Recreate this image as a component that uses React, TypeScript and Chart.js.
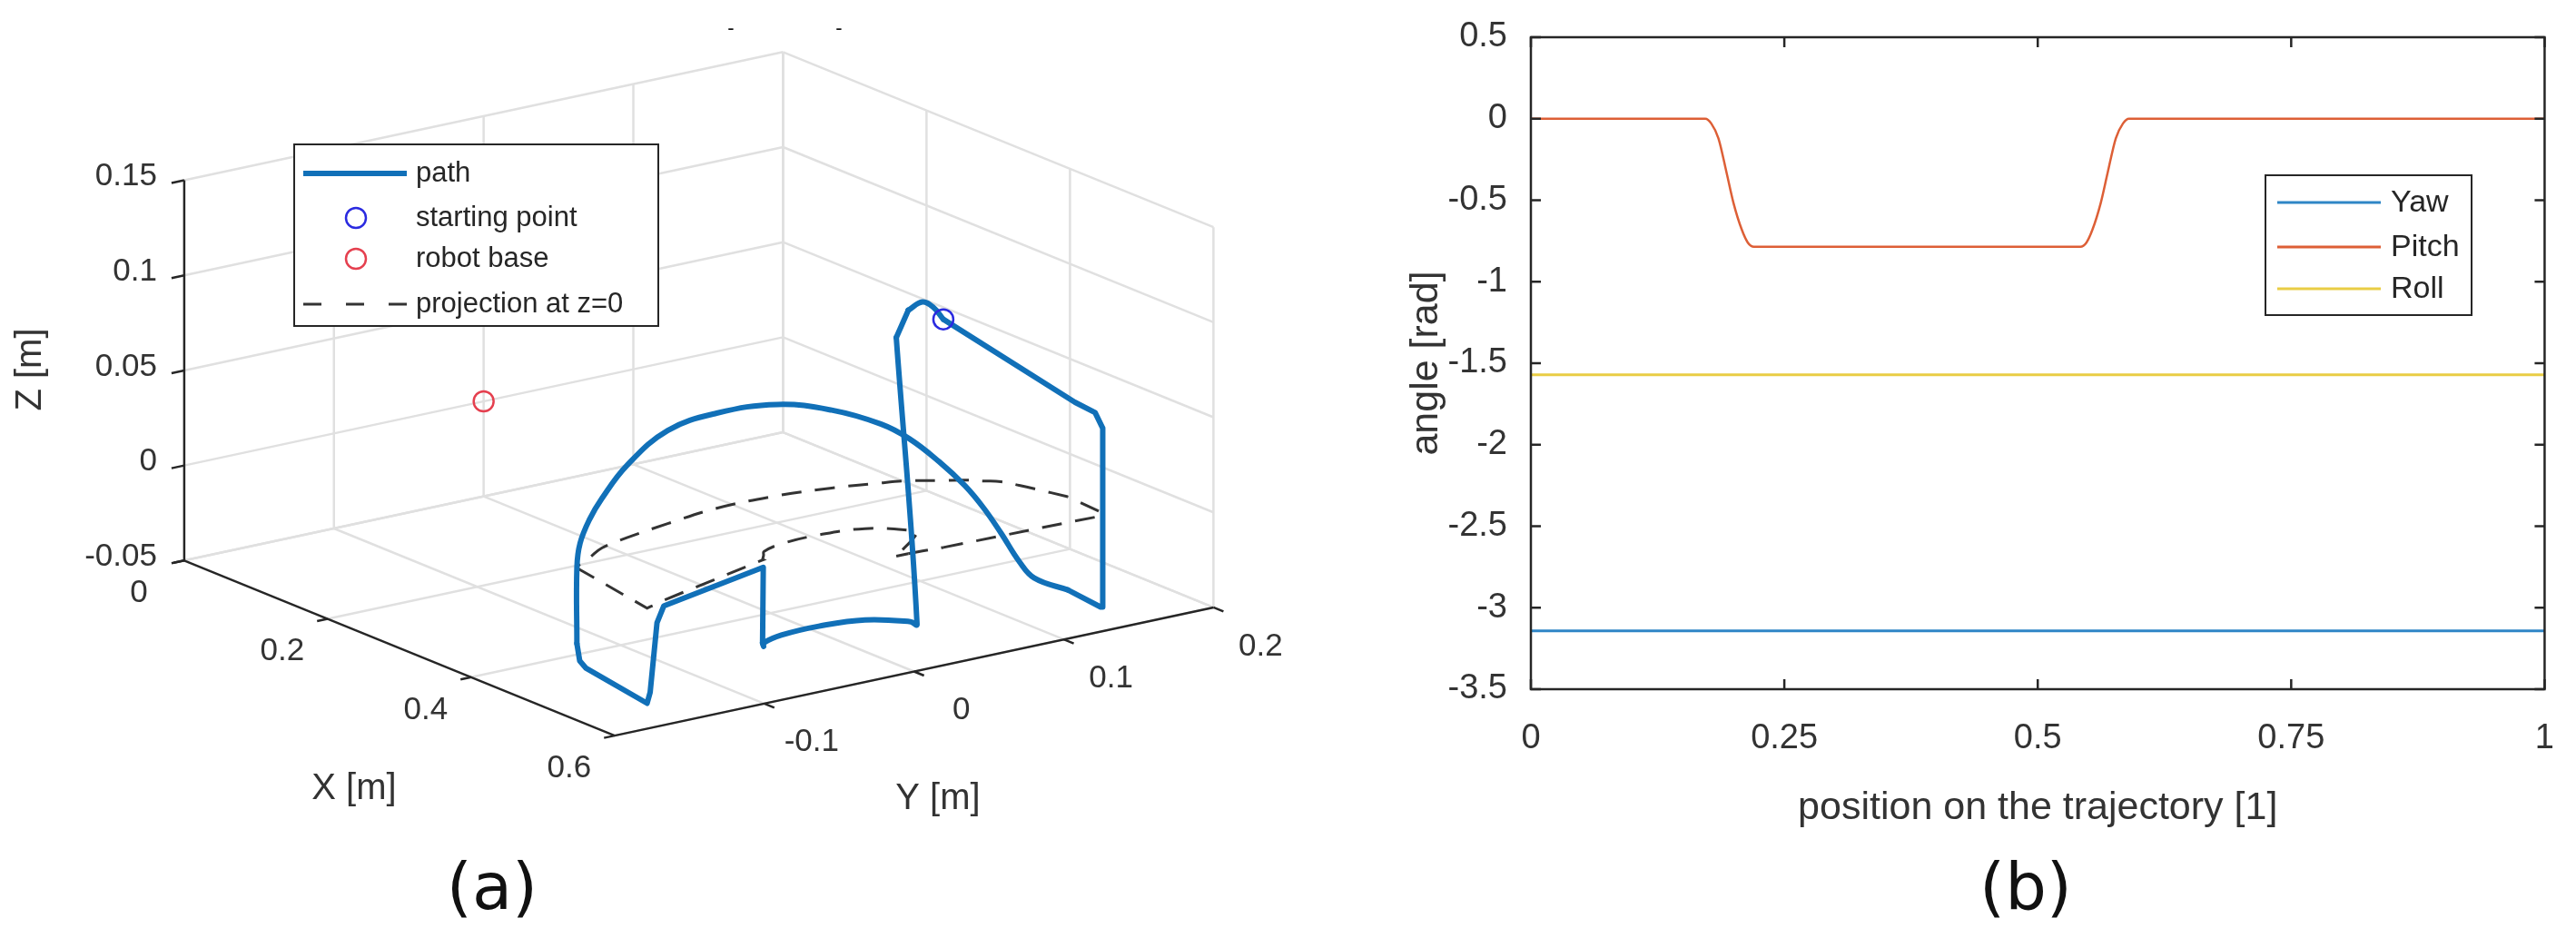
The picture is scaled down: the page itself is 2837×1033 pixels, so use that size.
import React, { useEffect, useRef } from 'react';
import { Chart, registerables } from 'chart.js';

Chart.register(...registerables);

// ================= Panel (a): 3D path (metres) =================
const pathX = [0.549, 0.553, 0.554, 0.550, 0.550, 0.550, 0.545, 0.495, 0.461, 0.446, 0.429, 0.419, 0.408, 0.397, 0.383, 0.374, 0.362, 0.353, 0.352, 0.363, 0.375, 0.386, 0.402, 0.412, 0.418, 0.418, 0.424, 0.435, 0.543, 0.541, 0.538, 0.533, 0.490, 0.489, 0.480, 0.472, 0.463, 0.461, 0.469, 0.495, 0.504, 0.546, 0.546, 0.547, 0.548, 0.549];
const pathY = [0.044, 0.130, 0.143, 0.150, 0.150, 0.150, 0.151, 0.153, 0.147, 0.144, 0.140, 0.133, 0.126, 0.114, 0.101, 0.086, 0.059, 0.027, -0.013, -0.051, -0.084, -0.106, -0.122, -0.133, -0.138, -0.138, -0.139, -0.140, -0.151, -0.148, -0.142, -0.135, -0.048, -0.048, -0.043, -0.039, -0.023, 0.003, 0.030, 0.048, 0.048, 0.014, 0.022, 0.031, 0.038, 0.044];
const pathZ = [0.120, 0.0625, 0.055, 0.045, -0.040, -0.049, -0.050, -0.049, -0.047, -0.040, -0.027, -0.014, -0.003, 0.010, 0.022, 0.031, 0.041, 0.048, 0.050, 0.049, 0.038, 0.026, 0.020, 0.011, 0.000, -0.040, -0.048, -0.050, -0.050, -0.045, -0.010, -0.003, -0.004, -0.044, -0.048, -0.048, -0.048, -0.048, -0.048, -0.048, -0.048, 0.115, 0.128, 0.131, 0.127, 0.120];
// pieces of the path: [first index, last index, curved?]
const pathPieces = [[0, 7, 0], [7, 25, 1], [25, 33, 0], [33, 41, 1], [41, 42, 0], [42, 45, 1]];
const startPoint = [0.549, 0.044, 0.120];
const robotBase = [0, 0, 0];
const projectionZ = 0;

const xTicksA = [0, 0.2, 0.4, 0.6];
const yTicksA = [-0.1, 0, 0.1, 0.2];
const zTicksA = [-0.05, 0, 0.05, 0.1, 0.15];
const legendLabelsA = ['path', 'starting point', 'robot base', 'projection at z=0'];

// ================= Panel (b): orientation angles =================
const trajPos = [0, 1];
const yawAngle = [-3.1416, -3.1416];
const rollAngle = [-1.5708, -1.5708];
const pitchPos = [0, 0.172, 0.178, 0.185, 0.193, 0.2, 0.208, 0.214, 0.22, 0.542, 0.548, 0.554, 0.562, 0.569, 0.577, 0.584, 0.59, 1];
const pitchAngle = [0, 0, -0.03, -0.12, -0.33, -0.52, -0.68, -0.76, -0.785, -0.785, -0.76, -0.68, -0.52, -0.33, -0.12, -0.03, 0, 0];
const seriesNames = ['Yaw', 'Pitch', 'Roll'];

// ================= styles / layout =================
const FONT = "'Liberation Sans', Arial, Helvetica, sans-serif";
const CAPTION_FONT = "'DejaVu Sans', Verdana, sans-serif";
const AXIS = '#262626';
const TEXT = '#333333';
const GRID = '#e0e0e0';
const COLORS = { yaw: '#2f86c6', pitch: '#dd5f36', roll: '#e9cd45', path: '#1170b8', proj: '#333333', start: '#2a2ae0', base: '#e5404f' };

const W_A = 1450;
const W_B = 1387;
const H = 1033;

// orthographic view of the 3D box (panel a, in canvas units)
const VIEW = { ox: 193, oy: 620, ex: [805, 330], ey: [1680, -362.5], ez: [0, -2150] };
const LIM = { x: [0, 0.6], y: [-0.2, 0.2], z: [-0.05, 0.15] };

function project(X: number, Y: number, Z: number) {
  const dx = X - LIM.x[0], dy = Y - LIM.y[0], dz = Z - LIM.z[0];
  return {
    x: VIEW.ox + VIEW.ex[0] * dx + VIEW.ey[0] * dy + VIEW.ez[0] * dz,
    y: VIEW.oy + VIEW.ex[1] * dx + VIEW.ey[1] * dy + VIEW.ez[1] * dz,
  };
}

const panelAPlugin = {
  id: 'panelA',
  beforeDatasetsDraw(chart: any) {
    const { ctx, scales } = chart;
    const P = (X: number, Y: number, Z: number) => {
      const p = project(X, Y, Z);
      return [scales.x.getPixelForValue(p.x), scales.y.getPixelForValue(p.y)];
    };
    const seg = (a: number[], b: number[]) => { ctx.beginPath(); ctx.moveTo(a[0], a[1]); ctx.lineTo(b[0], b[1]); ctx.stroke(); };
    const [x0, x1] = LIM.x, [y0, y1] = LIM.y, [z0, z1] = LIM.z;
    ctx.save();
    ctx.strokeStyle = GRID; ctx.lineWidth = 2.5;
    zTicksA.forEach(z => { seg(P(x0, y0, z), P(x0, y1, z)); seg(P(x0, y1, z), P(x1, y1, z)); });
    yTicksA.forEach(y => { seg(P(x0, y, z0), P(x0, y, z1)); seg(P(x0, y, z0), P(x1, y, z0)); });
    xTicksA.forEach(x => { seg(P(x, y1, z0), P(x, y1, z1)); seg(P(x, y0, z0), P(x, y1, z0)); });

    ctx.strokeStyle = AXIS; ctx.lineWidth = 2.5;
    seg(P(x0, y0, z0), P(x0, y0, z1));
    seg(P(x0, y0, z0), P(x1, y0, z0));
    seg(P(x1, y0, z0), P(x1, y1, z0));

    ctx.fillStyle = TEXT;
    ctx.font = `35px ${FONT}`;
    ctx.textBaseline = 'middle';
    zTicksA.forEach(z => {
      const a = P(x0, y0, z);
      seg(a, [a[0] - 14, a[1] + 3]);
      ctx.textAlign = 'right';
      ctx.fillText(String(z), a[0] - 30, a[1] - 4);
    });
    xTicksA.forEach(x => {
      const a = P(x, y0, z0);
      seg(a, [a[0] - 11.7, a[1] + 2.5]);
      ctx.textAlign = 'center';
      ctx.fillText(String(x), a[0] - 50, a[1] + 36);
    });
    yTicksA.forEach(y => {
      const a = P(x1, y, z0);
      seg(a, [a[0] + 11, a[1] + 4.5]);
      ctx.textAlign = 'center';
      ctx.fillText(String(y), a[0] + 52, a[1] + 43);
    });

    ctx.font = `40px ${FONT}`;
    ctx.textAlign = 'center';
    ctx.fillText('X [m]', 390, 869);
    ctx.fillText('Y [m]', 1033, 880);
    ctx.save();
    ctx.translate(34, 407);
    ctx.rotate(-Math.PI / 2);
    ctx.fillText('Z [m]', 0, 0);
    ctx.restore();

    ctx.font = `22px ${FONT}`;
    ctx.fillStyle = '#111';
    ctx.fillText('-', 805, 32);
    ctx.fillText('-', 924, 32);
    ctx.restore();
  },
  afterDatasetsDraw(chart: any) {
    const { ctx } = chart;
    ctx.save();
    ctx.fillStyle = '#ffffff';
    ctx.fillRect(324, 159, 401, 200);
    ctx.strokeStyle = AXIS; ctx.lineWidth = 2;
    ctx.strokeRect(324, 159, 401, 200);
    const ys = [191, 240, 285, 335];
    ctx.lineCap = 'butt';
    ctx.strokeStyle = COLORS.path; ctx.lineWidth = 6;
    ctx.beginPath(); ctx.moveTo(334, ys[0]); ctx.lineTo(448, ys[0]); ctx.stroke();
    ctx.lineWidth = 2.5;
    ctx.strokeStyle = COLORS.start;
    ctx.beginPath(); ctx.arc(392, ys[1], 11, 0, Math.PI * 2); ctx.stroke();
    ctx.strokeStyle = COLORS.base;
    ctx.beginPath(); ctx.arc(392, ys[2], 11, 0, Math.PI * 2); ctx.stroke();
    ctx.strokeStyle = COLORS.proj; ctx.lineWidth = 3; ctx.setLineDash([20, 27]);
    ctx.beginPath(); ctx.moveTo(334, ys[3]); ctx.lineTo(448, ys[3]); ctx.stroke();
    ctx.setLineDash([]);
    ctx.fillStyle = AXIS;
    ctx.font = `31px ${FONT}`;
    ctx.textAlign = 'left'; ctx.textBaseline = 'middle';
    legendLabelsA.forEach((t, i) => ctx.fillText(t, 458, ys[i]));
    ctx.fillStyle = '#111';
    ctx.font = `72px ${CAPTION_FONT}`;
    ctx.textAlign = 'center';
    ctx.fillText('(a)', 542, 982);
    ctx.restore();
  },
};

const panelBPlugin = {
  id: 'panelB',
  afterDatasetsDraw(chart: any) {
    const { ctx, chartArea: a, scales: { x, y } } = chart;
    ctx.save();
    ctx.strokeStyle = AXIS; ctx.lineWidth = 2.5;
    ctx.strokeRect(a.left, a.top, a.right - a.left, a.bottom - a.top);
    const tl = 11;
    const line = (x1: number, y1: number, x2: number, y2: number) => { ctx.beginPath(); ctx.moveTo(x1, y1); ctx.lineTo(x2, y2); ctx.stroke(); };
    x.ticks.forEach((t: any) => {
      const px = x.getPixelForValue(t.value);
      line(px, a.bottom, px, a.bottom - tl);
      line(px, a.top, px, a.top + tl);
    });
    y.ticks.forEach((t: any) => {
      const py = y.getPixelForValue(t.value);
      line(a.left, py, a.left + tl, py);
      line(a.right, py, a.right - tl, py);
    });
    const lx = 1045, ly = 193, lw = 227, lh = 154;
    ctx.fillStyle = '#ffffff';
    ctx.fillRect(lx, ly, lw, lh);
    ctx.lineWidth = 2;
    ctx.strokeRect(lx, ly, lw, lh);
    const rows = [223, 272, 318];
    const cols = [COLORS.yaw, COLORS.pitch, COLORS.roll];
    ctx.font = `34px ${FONT}`;
    ctx.textAlign = 'left'; ctx.textBaseline = 'middle';
    rows.forEach((ry, i) => {
      ctx.strokeStyle = cols[i]; ctx.lineWidth = 3;
      line(1058, ry, 1172, ry);
      ctx.fillStyle = AXIS;
      ctx.fillText(seriesNames[i], 1183, ry + 1);
    });
    ctx.fillStyle = '#111';
    ctx.font = `72px ${CAPTION_FONT}`;
    ctx.textAlign = 'center';
    ctx.fillText('(b)', 781, 982);
    ctx.restore();
  },
};

function PanelA() {
  const ref = useRef<HTMLCanvasElement>(null);
  useEffect(() => {
    const pieceData = (z: number | null) => pathPieces.map(([i0, i1]) => {
      const pts = [];
      for (let i = i0; i <= i1; i++) pts.push(project(pathX[i], pathY[i], z === null ? pathZ[i] : z));
      return pts;
    });
    const pathSets = pieceData(null).map((pts, k) => ({
      label: legendLabelsA[0], data: pts, showLine: true, borderColor: COLORS.path, borderWidth: 6, pointRadius: 0,
      tension: pathPieces[k][2] ? 0.4 : 0, borderJoinStyle: 'round', borderCapStyle: 'round',
    }));
    const projSets = pieceData(projectionZ).map((pts, k) => ({
      label: legendLabelsA[3], data: pts, showLine: true, borderColor: COLORS.proj, borderWidth: 3, borderDash: [22, 15], pointRadius: 0,
      tension: pathPieces[k][2] ? 0.4 : 0,
    }));
    const chart = new Chart(ref.current as HTMLCanvasElement, {
      type: 'scatter',
      data: {
        datasets: [
          { label: legendLabelsA[1], data: [project(startPoint[0], startPoint[1], startPoint[2])], pointStyle: 'circle', pointRadius: 11, pointBorderWidth: 2.5, pointBorderColor: COLORS.start, pointBackgroundColor: 'rgba(0,0,0,0)', showLine: false },
          { label: legendLabelsA[2], data: [project(robotBase[0], robotBase[1], robotBase[2])], pointStyle: 'circle', pointRadius: 11, pointBorderWidth: 2.5, pointBorderColor: COLORS.base, pointBackgroundColor: 'rgba(0,0,0,0)', showLine: false },
          ...pathSets,
          ...projSets,
        ],
      } as any,
      options: {
        responsive: false,
        animation: false,
        layout: { padding: 0 },
        scales: {
          x: { type: 'linear', display: false, min: 0, max: W_A },
          y: { type: 'linear', display: false, min: 0, max: H, reverse: true },
        },
        plugins: { legend: { display: false }, tooltip: { enabled: false } },
      } as any,
      plugins: [panelAPlugin],
    });
    return () => chart.destroy();
  }, []);
  return <canvas ref={ref} width={W_A} height={H} style={{ position: 'absolute', left: 0, top: 0, width: W_A, height: H }} />;
}

function PanelB() {
  const ref = useRef<HTMLCanvasElement>(null);
  useEffect(() => {
    const fmt = (v: any) => String(Math.round(Number(v) * 1000) / 1000);
    const chart = new Chart(ref.current as HTMLCanvasElement, {
      type: 'line',
      data: {
        datasets: [
          { label: seriesNames[0], data: trajPos.map((p, i) => ({ x: p, y: yawAngle[i] })), borderColor: COLORS.yaw, borderWidth: 3, pointRadius: 0 },
          { label: seriesNames[1], data: pitchPos.map((p, i) => ({ x: p, y: pitchAngle[i] })), borderColor: COLORS.pitch, borderWidth: 2.5, pointRadius: 0, cubicInterpolationMode: 'monotone' },
          { label: seriesNames[2], data: trajPos.map((p, i) => ({ x: p, y: rollAngle[i] })), borderColor: COLORS.roll, borderWidth: 3, pointRadius: 0 },
        ],
      } as any,
      options: {
        responsive: false,
        animation: false,
        layout: { padding: { left: 95, right: 29, top: 41, bottom: 117 } },
        scales: {
          x: {
            type: 'linear', min: 0, max: 1,
            grid: { display: false }, border: { display: false },
            ticks: { stepSize: 0.25, padding: 24, color: TEXT, font: { family: FONT, size: 38 }, maxRotation: 0, autoSkip: false, callback: fmt },
            title: { display: true, text: 'position on the trajectory [1]', color: TEXT, font: { family: FONT, size: 43 }, padding: 0 },
            afterFit: (s: any) => { s.height = 157; },
          },
          y: {
            type: 'linear', min: -3.5, max: 0.5,
            grid: { display: false }, border: { display: false },
            ticks: { stepSize: 0.5, padding: 18, color: TEXT, font: { family: FONT, size: 38 }, autoSkip: false, callback: fmt },
            title: { display: true, text: 'angle [rad]', color: TEXT, font: { family: FONT, size: 43 }, padding: 0 },
            afterFit: (s: any) => { s.width = 141; },
          },
        },
        plugins: { legend: { display: false }, tooltip: { enabled: false } },
      } as any,
      plugins: [panelBPlugin],
    });
    return () => chart.destroy();
  }, []);
  return <canvas ref={ref} width={W_B} height={H} style={{ position: 'absolute', left: W_A, top: 0, width: W_B, height: H }} />;
}

export default function App() {
  return (
    <div style={{ position: 'absolute', left: 0, top: 0, width: W_A + W_B, height: H, background: '#ffffff', overflow: 'hidden' }}>
      <PanelA />
      <PanelB />
    </div>
  );
}
